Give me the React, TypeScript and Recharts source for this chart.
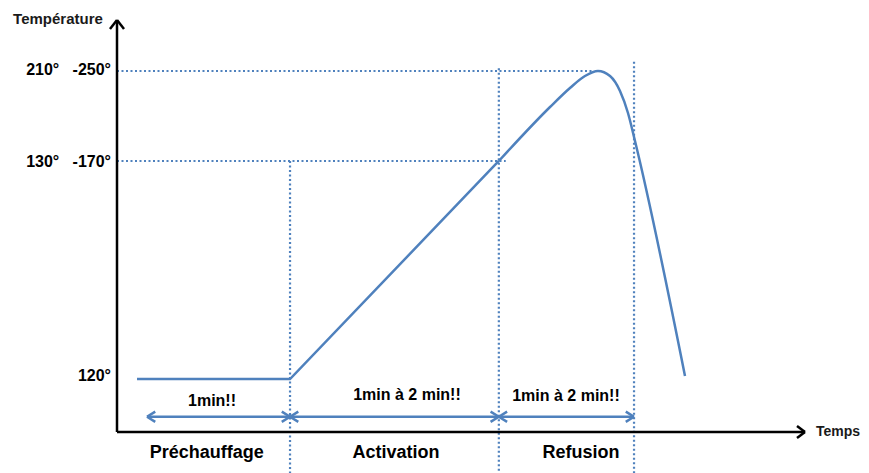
import React from 'react';
import { LineChart, Line, XAxis, YAxis, ReferenceLine, ReferenceDot } from 'recharts';

// Schematic temperature profile (abstract units: time 0..100, level 0..100)
const rampTime = [2.91, 25.15, 55.5];
const rampLevel = [12.86, 12.86, 65.78];

const peakTime = [55.5, 62.94, 65.84, 68.02, 69.91, 71.66, 73.11, 74.27, 75.29, 82.56];
const peakLevel = [65.78, 78.88, 83.5, 86.41, 87.62, 86.41, 82.77, 77.43, 70.63, 13.59];

// Y axis marks
const levelTicks = [13.83, 65.78, 88.1];
const levelLabels = ['120°', '130°\u00a0\u00a0 -170°', '210°\u00a0\u00a0 -250°'];

// Dotted guides
const guideLevels = [87.62, 65.78];
const guideEnds = [69.2, 56.5];
const phaseBounds = [25.15, 55.5, 75.15];
const boundTops = [65.78, 88.28, 89.88];
const guideBottom = -10;

// Duration arrows
const arrowStarts = [4.36, 25.15, 55.5];
const arrowEnds = [25.15, 55.5, 75.15];
const arrowLevel = 3.71;
const durationLabels = ['1min!!', '1min à 2 min!!', '1min à 2 min!!'];
const durationX = [13.81, 42.15, 65.26];
const durationY = [7.77, 9.22, 8.98];

// Phase names
const phaseNames = ['Préchauffage', 'Activation', 'Refusion'];
const phaseX = [13.04, 40.55, 67.44];
const phaseY = -4.78;

const rampData = rampTime.map((x, i) => ({ x, y: rampLevel[i] }));
const peakData = peakTime.map((x, i) => ({ x, y: peakLevel[i] }));

const BLUE = '#4F81BD';
const FONT = '"Liberation Sans", Arial, sans-serif';

const YTick = (props: any) => {
  const { x, y, payload } = props;
  const idx = levelTicks.indexOf(payload.value);
  return (
    <text x={x + 2} y={y} dy="0.355em" textAnchor="end" fontSize={16} fontWeight="bold" fill="#000" fontFamily={FONT}>
      {levelLabels[idx]}
    </text>
  );
};

export default function App() {
  const headX = 1.2;
  const headY = 1.25;
  return (
    <div style={{ position: 'absolute', left: 0, top: 0, background: '#fff' }}>
      <LineChart
        width={869}
        height={473}
        margin={{ top: 20, right: 64, bottom: 0, left: 0 }}
        style={{ fontFamily: FONT }}
      >
        <XAxis
          type="number"
          dataKey="x"
          domain={[0, 100]}
          allowDataOverflow
          tick={false}
          tickLine={false}
          height={41}
          axisLine={{ stroke: '#000', strokeWidth: 2.5 }}
        />
        <YAxis
          type="number"
          domain={[0, 100]}
          allowDataOverflow
          ticks={levelTicks}
          tick={<YTick />}
          tickLine={false}
          width={117}
          axisLine={{ stroke: '#000', strokeWidth: 2.5 }}
        />

        {/* Horizontal dotted guides */}
        {guideLevels.map((lv, i) => (
          <ReferenceLine
            key={'h' + i}
            segment={[{ x: 0, y: lv }, { x: guideEnds[i], y: lv }]}
            stroke={BLUE}
            strokeWidth={2.2}
            strokeDasharray="2 2.5"
            ifOverflow="visible"
          />
        ))}
        {/* Vertical dotted guides */}
        {phaseBounds.map((bx, i) => (
          <ReferenceLine
            key={'v' + i}
            segment={[{ x: bx, y: boundTops[i] }, { x: bx, y: guideBottom }]}
            stroke={BLUE}
            strokeWidth={2.2}
            strokeDasharray="2 2.5"
            ifOverflow="visible"
          />
        ))}

        <Line data={rampData} dataKey="y" type="linear" stroke={BLUE} strokeWidth={2.5} dot={false} activeDot={false} isAnimationActive={false} />
        <Line data={peakData} dataKey="y" type="monotone" stroke={BLUE} strokeWidth={2.5} dot={false} activeDot={false} isAnimationActive={false} />

        {/* Duration arrows */}
        {arrowStarts.map((s, i) => {
          const e = arrowEnds[i];
          return (
            <React.Fragment key={'a' + i}>
              <ReferenceLine segment={[{ x: s, y: arrowLevel }, { x: e, y: arrowLevel }]} stroke={BLUE} strokeWidth={2.5} ifOverflow="visible" />
              <ReferenceLine segment={[{ x: s, y: arrowLevel }, { x: s + headX, y: arrowLevel + headY }]} stroke={BLUE} strokeWidth={2.5} ifOverflow="visible" />
              <ReferenceLine segment={[{ x: s, y: arrowLevel }, { x: s + headX, y: arrowLevel - headY }]} stroke={BLUE} strokeWidth={2.5} ifOverflow="visible" />
              <ReferenceLine segment={[{ x: e, y: arrowLevel }, { x: e - headX, y: arrowLevel + headY }]} stroke={BLUE} strokeWidth={2.5} ifOverflow="visible" />
              <ReferenceLine segment={[{ x: e, y: arrowLevel }, { x: e - headX, y: arrowLevel - headY }]} stroke={BLUE} strokeWidth={2.5} ifOverflow="visible" />
            </React.Fragment>
          );
        })}

        {/* Axis arrowheads */}
        <ReferenceLine segment={[{ x: 0, y: 100 }, { x: -1.02, y: 97.8 }]} stroke="#000" strokeWidth={2.5} ifOverflow="visible" />
        <ReferenceLine segment={[{ x: 0, y: 100 }, { x: 1.02, y: 97.8 }]} stroke="#000" strokeWidth={2.5} ifOverflow="visible" />
        <ReferenceLine segment={[{ x: 100, y: 0 }, { x: 98.84, y: 1.46 }]} stroke="#000" strokeWidth={2.5} ifOverflow="visible" />
        <ReferenceLine segment={[{ x: 100, y: 0 }, { x: 98.84, y: -1.46 }]} stroke="#000" strokeWidth={2.5} ifOverflow="visible" />

        {/* Duration labels */}
        {durationLabels.map((t, i) => (
          <ReferenceDot
            key={'d' + i}
            x={durationX[i]}
            y={durationY[i]}
            r={0}
            ifOverflow="visible"
            label={{ value: t, position: 'center', fill: '#000', fontSize: 16, fontWeight: 'bold', fontFamily: FONT }}
          />
        ))}
        {/* Phase labels */}
        {phaseNames.map((t, i) => (
          <ReferenceDot
            key={'p' + i}
            x={phaseX[i]}
            y={phaseY}
            r={0}
            ifOverflow="visible"
            label={{ value: t, position: 'center', fill: '#000', fontSize: 18, fontWeight: 'bold', fontFamily: FONT }}
          />
        ))}
        {/* Axis titles */}
        <ReferenceDot
          x={-8.58}
          y={100.24}
          r={0}
          ifOverflow="visible"
          label={{ value: 'Température', position: 'center', fill: '#1a1a1a', fontSize: 15, fontWeight: 'bold', fontFamily: FONT }}
        />
        <ReferenceDot
          x={104.8}
          y={0.24}
          r={0}
          ifOverflow="visible"
          label={{ value: 'Temps', position: 'center', fill: '#1a1a1a', fontSize: 14, fontWeight: 'bold', fontFamily: FONT }}
        />
      </LineChart>
    </div>
  );
}
